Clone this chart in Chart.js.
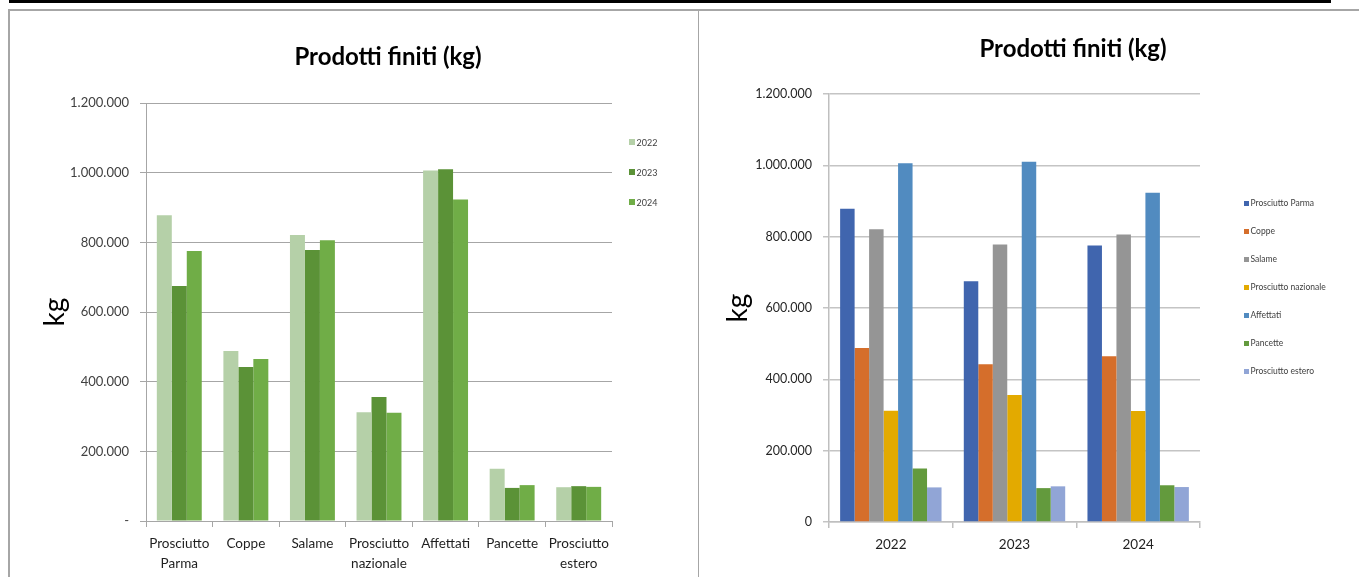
<!DOCTYPE html>
<html>
<head>
<meta charset="utf-8">
<script src="https://cdn.jsdelivr.net/npm/chart.js@4.4.1/dist/chart.umd.min.js"></script>
<style>
  html, body { margin:0; padding:0; background:#fff; }
  body { width:1359px; height:577px; position:relative; overflow:hidden; font-family:Lato, "Open Sans", sans-serif; }
  .abs { position:absolute; }
  .title { position:absolute; font-family:Lato, sans-serif; font-weight:bold; font-size:24px; color:#000; white-space:nowrap; transform:translate(-50%,-50%); }
  .leg { position:absolute; font-family:Lato, sans-serif; color:#404040; white-space:nowrap; }
  .leg span.sw { position:absolute; display:block; }
  .leg span.tx { position:absolute; transform:translateY(-50%); }
</style>
</head>
<body>
<div class="abs" style="left:9px;top:0;width:1322px;height:3px;background:#000"></div>
<div class="abs" style="left:8px;top:9px;width:1351px;height:1.5px;background:#a6a6a6"></div>
<div class="abs" style="left:8px;top:9px;width:1.5px;height:568px;background:#a6a6a6"></div>
<div class="abs" style="left:697.5px;top:9px;width:1.5px;height:568px;background:#a6a6a6"></div>

<canvas id="c1" class="abs" style="left:0;top:0"></canvas>
<canvas id="c2" class="abs" style="left:698px;top:0"></canvas>

<div class="title" style="left:388px;top:55px">Prodotti finiti (kg)</div>
<div class="title" style="left:1073px;top:47px">Prodotti finiti (kg)</div>
<div id="leg1"></div>
<div id="leg2"></div>

<script>
// ---- data ----
const products = ["Prosciutto Parma", "Coppe", "Salame", "Prosciutto nazionale", "Affettati", "Pancette", "Prosciutto estero"];
const productTickLabels = [["Prosciutto", "Parma"], "Coppe", "Salame", ["Prosciutto", "nazionale"], "Affettati", "Pancette", ["Prosciutto", "estero"]];
const years = ["2022", "2023", "2024"];
const kg2022 = [878000, 488000, 821000, 312000, 1006000, 150000, 97000];
const kg2023 = [675000, 442000, 778000, 356000, 1010000, 95000, 100000];
const kg2024 = [775000, 465000, 806000, 311000, 923000, 103000, 98000];
const yMax = 1200000;
const yStep = 200000;

// ---- styles ----
const yearColors = ["#b5d0a8", "#5b9237", "#70ad47"];
const productColors = ["#4065ae", "#d56e2b", "#959595", "#e3aa00", "#518bc0", "#639a3d", "#91a5d6"];

function fmt(v) {
  return String(Math.round(v)).replace(/\B(?=(\d{3})+(?!\d))/g, ".");
}

function setupCanvas(id, w, h) {
  const c = document.getElementById(id);
  c.width = w; c.height = h;
  c.style.width = w + "px"; c.style.height = h + "px";
  return c;
}

const byYear = [kg2022, kg2023, kg2024];

// ---- Left chart: categories = products, series = years ----
const c1 = setupCanvas("c1", 698, 577);
new Chart(c1, {
  type: "bar",
  data: {
    labels: productTickLabels,
    datasets: years.map((y, i) => ({
      label: y,
      data: byYear[i],
      backgroundColor: yearColors[i],
      borderWidth: 0,
      barPercentage: 1,
      categoryPercentage: 0.675
    }))
  },
  options: {
    responsive: false,
    animation: false,
    devicePixelRatio: 1,
    layout: { padding: { left: 0, top: 103, right: 86, bottom: 0 } },
    plugins: { legend: { display: false }, title: { display: false }, tooltip: { enabled: false } },
    scales: {
      x: {
        afterFit: s => { s.height = 56; },
        grid: { offset: true, drawOnChartArea: false, drawTicks: true, tickLength: 6, color: "#a6a6a6", lineWidth: 1 },
        border: { color: "#a6a6a6", width: 1 },
        ticks: { color: "#1f1f1f", font: { family: "Lato", size: 13.5, lineHeight: 1.45 }, padding: 7, maxRotation: 0, autoSkip: false }
      },
      y: {
        min: 0, max: yMax,
        afterFit: s => { s.width = 146; },
        grid: { color: "#a6a6a6", lineWidth: 1, tickLength: 6 },
        border: { color: "#a6a6a6", width: 1 },
        ticks: { stepSize: yStep, color: "#404040", font: { family: "Lato", size: 13 }, padding: 11,
                 callback: v => v === 0 ? "-" : fmt(v) },
        title: { display: true, text: "kg", color: "#000", font: { family: "Lato", size: 28 }, padding: { top: 38, bottom: 0 } }
      }
    }
  }
});

// ---- Right chart: categories = years, series = products ----
const c2 = setupCanvas("c2", 661, 577);
new Chart(c2, {
  type: "bar",
  data: {
    labels: years,
    datasets: products.map((p, i) => ({
      label: p,
      data: byYear.map(arr => arr[i]),
      backgroundColor: productColors[i],
      borderWidth: 0,
      barPercentage: 1,
      categoryPercentage: 0.82
    }))
  },
  options: {
    responsive: false,
    animation: false,
    devicePixelRatio: 1,
    layout: { padding: { left: 0, top: 94, right: 159, bottom: 0 } },
    plugins: { legend: { display: false }, title: { display: false }, tooltip: { enabled: false } },
    scales: {
      x: {
        afterFit: s => { s.height = 55; },
        grid: { offset: true, drawOnChartArea: false, drawTicks: true, tickLength: 6, color: "#bfbfbf", lineWidth: 1.5 },
        border: { color: "#bfbfbf", width: 1.5 },
        ticks: { color: "#1f1f1f", font: { family: "Lato", size: 13.5 }, padding: 9, maxRotation: 0 }
      },
      y: {
        min: 0, max: yMax,
        afterFit: s => { s.width = 131; },
        grid: { color: "#c4c4c4", lineWidth: 1.5, tickLength: 6 },
        border: { color: "#bfbfbf", width: 1.5 },
        ticks: { stepSize: yStep, color: "#262626", font: { family: "Lato", size: 12.5 }, padding: 11,
                 callback: v => fmt(v) },
        title: { display: true, text: "kg", color: "#000", font: { family: "Lato", size: 28 }, padding: { top: 23, bottom: 0 } }
      }
    }
  }
});

// ---- HTML legends ----
function buildLegend(elId, names, colors, x, y0, dy, sw, fontSize) {
  const el = document.getElementById(elId);
  names.forEach((n, i) => {
    const d = document.createElement("div");
    d.className = "leg";
    d.style.left = x + "px";
    d.style.top = (y0 + i * dy) + "px";
    d.style.fontSize = fontSize + "px";
    const s = document.createElement("span");
    s.className = "sw";
    s.style.left = "0px"; s.style.top = (-sw / 2) + "px";
    s.style.width = sw + "px"; s.style.height = sw + "px";
    s.style.background = colors[i];
    const t = document.createElement("span");
    t.className = "tx";
    t.style.left = (sw + 1.5) + "px"; t.style.top = "0px";
    t.textContent = n;
    d.appendChild(s); d.appendChild(t);
    el.appendChild(d);
  });
}
buildLegend("leg1", years, yearColors, 629, 142, 30, 6, 9);
buildLegend("leg2", products, productColors, 1244, 203, 28, 5, 8.5);
</script>
</body>
</html>
